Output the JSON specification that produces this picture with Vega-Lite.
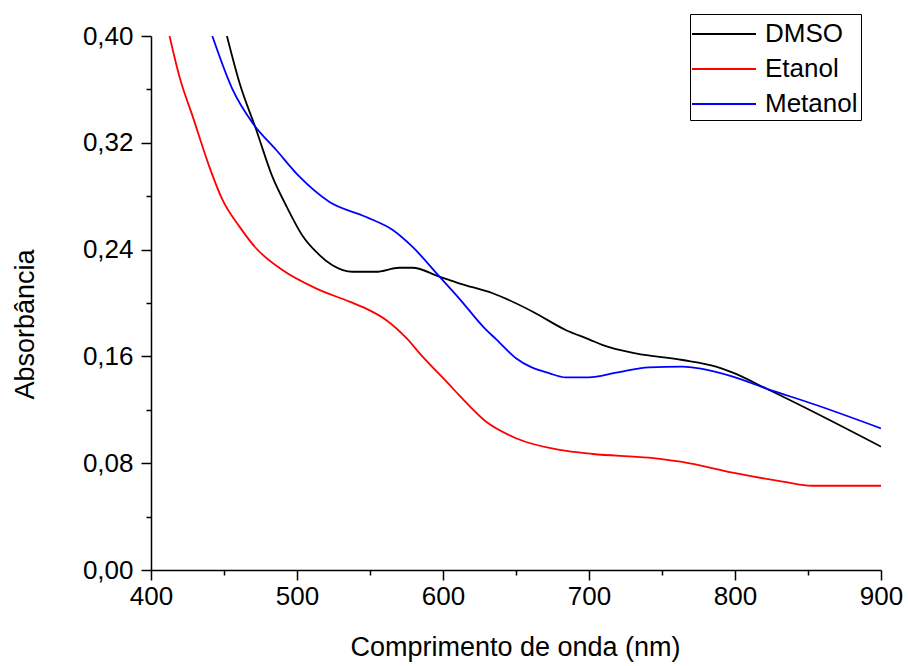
{
  "$schema": "https://vega.github.io/schema/vega-lite/v6.json",
  "width": 730,
  "height": 534,
  "autosize": {"type": "none"},
  "padding": {"left": 151, "top": 36, "right": 27, "bottom": 96},
  "background": "white",
  "config": {
    "view": {"stroke": null},
    "font": "Liberation Sans",
    "axis": {"grid": false, "labelFlush": false, "labelOverlap": false, "domainColor": "black", "domainWidth": 1.5, "tickColor": "black", "tickWidth": 1.5, "labelColor": "black", "titleColor": "black", "labelFont": "Liberation Sans", "titleFont": "Liberation Sans", "labelFontSize": 26, "titleFontSize": 27, "titleFontWeight": "normal"}
  },
  "data": {
    "values": [
      {"s": "DMSO", "x": 452, "y": 0.400},
      {"s": "DMSO", "x": 460.6, "y": 0.365},
      {"s": "DMSO", "x": 472, "y": 0.330},
      {"s": "DMSO", "x": 483, "y": 0.295},
      {"s": "DMSO", "x": 493, "y": 0.272},
      {"s": "DMSO", "x": 504, "y": 0.250},
      {"s": "DMSO", "x": 513, "y": 0.2384},
      {"s": "DMSO", "x": 524, "y": 0.2285},
      {"s": "DMSO", "x": 538, "y": 0.2234},
      {"s": "DMSO", "x": 554, "y": 0.2234},
      {"s": "DMSO", "x": 570, "y": 0.2264},
      {"s": "DMSO", "x": 579, "y": 0.2264},
      {"s": "DMSO", "x": 597.6, "y": 0.2197},
      {"s": "DMSO", "x": 611, "y": 0.2147},
      {"s": "DMSO", "x": 634, "y": 0.2073},
      {"s": "DMSO", "x": 661.5, "y": 0.1935},
      {"s": "DMSO", "x": 684, "y": 0.1798},
      {"s": "DMSO", "x": 700, "y": 0.1728},
      {"s": "DMSO", "x": 709.5, "y": 0.1685},
      {"s": "DMSO", "x": 732, "y": 0.1623},
      {"s": "DMSO", "x": 764, "y": 0.1573},
      {"s": "DMSO", "x": 787, "y": 0.1523},
      {"s": "DMSO", "x": 798.5, "y": 0.1478},
      {"s": "DMSO", "x": 821, "y": 0.1361},
      {"s": "DMSO", "x": 855.6, "y": 0.1174},
      {"s": "DMSO", "x": 900, "y": 0.0924},
      {"s": "Etanol", "x": 412.7, "y": 0.400},
      {"s": "Etanol", "x": 419.5, "y": 0.3695},
      {"s": "Etanol", "x": 428.6, "y": 0.3396},
      {"s": "Etanol", "x": 440, "y": 0.302},
      {"s": "Etanol", "x": 449, "y": 0.2772},
      {"s": "Etanol", "x": 460.6, "y": 0.2572},
      {"s": "Etanol", "x": 472, "y": 0.241},
      {"s": "Etanol", "x": 490, "y": 0.2247},
      {"s": "Etanol", "x": 513, "y": 0.211},
      {"s": "Etanol", "x": 536, "y": 0.201},
      {"s": "Etanol", "x": 547, "y": 0.196},
      {"s": "Etanol", "x": 561, "y": 0.1873},
      {"s": "Etanol", "x": 575, "y": 0.1736},
      {"s": "Etanol", "x": 584, "y": 0.1623},
      {"s": "Etanol", "x": 604.5, "y": 0.1386},
      {"s": "Etanol", "x": 611, "y": 0.131},
      {"s": "Etanol", "x": 629.6, "y": 0.111},
      {"s": "Etanol", "x": 650, "y": 0.0987},
      {"s": "Etanol", "x": 680, "y": 0.0899},
      {"s": "Etanol", "x": 702.6, "y": 0.0869},
      {"s": "Etanol", "x": 741, "y": 0.0841},
      {"s": "Etanol", "x": 769, "y": 0.0799},
      {"s": "Etanol", "x": 798.5, "y": 0.0729},
      {"s": "Etanol", "x": 832.7, "y": 0.0662},
      {"s": "Etanol", "x": 853, "y": 0.0631},
      {"s": "Etanol", "x": 900, "y": 0.0631},
      {"s": "Metanol", "x": 442, "y": 0.400},
      {"s": "Metanol", "x": 456, "y": 0.3596},
      {"s": "Metanol", "x": 469.7, "y": 0.3346},
      {"s": "Metanol", "x": 485.8, "y": 0.3146},
      {"s": "Metanol", "x": 501.7, "y": 0.2946},
      {"s": "Metanol", "x": 522, "y": 0.2759},
      {"s": "Metanol", "x": 547, "y": 0.2646},
      {"s": "Metanol", "x": 565.6, "y": 0.2547},
      {"s": "Metanol", "x": 579, "y": 0.2422},
      {"s": "Metanol", "x": 597.6, "y": 0.2197},
      {"s": "Metanol", "x": 611, "y": 0.2035},
      {"s": "Metanol", "x": 629.6, "y": 0.1798},
      {"s": "Metanol", "x": 636.5, "y": 0.1728},
      {"s": "Metanol", "x": 650, "y": 0.1586},
      {"s": "Metanol", "x": 673, "y": 0.1473},
      {"s": "Metanol", "x": 684, "y": 0.1443},
      {"s": "Metanol", "x": 700, "y": 0.1443},
      {"s": "Metanol", "x": 718.6, "y": 0.1478},
      {"s": "Metanol", "x": 741, "y": 0.1518},
      {"s": "Metanol", "x": 764, "y": 0.1523},
      {"s": "Metanol", "x": 775.6, "y": 0.151},
      {"s": "Metanol", "x": 798.5, "y": 0.1448},
      {"s": "Metanol", "x": 821, "y": 0.1361},
      {"s": "Metanol", "x": 855.6, "y": 0.1236},
      {"s": "Metanol", "x": 900, "y": 0.1061}
    ]
  },
  "mark": {"type": "line", "strokeWidth": 1.8, "interpolate": "monotone", "clip": true},
  "encoding": {
    "x": {
      "field": "x", "type": "quantitative",
      "scale": {"domain": [400, 900], "nice": false, "zero": false},
      "axis": {
        "values": [400, 450, 500, 550, 600, 650, 700, 750, 800, 850, 900],
        "labelExpr": "datum.value % 100 === 0 ? datum.label : ''",
        "format": "d",
        "tickSize": {"condition": {"test": "datum.value % 100 === 0", "value": 10}, "value": 5},
        "labelPadding": 3,
        "title": "Comprimento de onda (nm)",
        "titleX": 364, "titleY": 85, "titleBaseline": "alphabetic", "titleAlign": "center"
      }
    },
    "y": {
      "field": "y", "type": "quantitative",
      "scale": {"domain": [0, 0.4], "nice": false, "zero": false},
      "axis": {
        "values": [0, 0.04, 0.08, 0.12, 0.16, 0.2, 0.24, 0.28, 0.32, 0.36, 0.4],
        "labelExpr": "round(datum.value*100) % 8 === 0 ? replace(format(datum.value, '.2f'), '.', ',') : ''",
        "tickSize": {"condition": {"test": "round(datum.value*100) % 8 === 0", "value": 10}, "value": 5},
        "labelPadding": 8,
        "title": "Absorbância",
        "titleX": -126, "titleY": 288, "titleAngle": 270, "titleBaseline": "middle", "titleAlign": "center"
      }
    },
    "color": {
      "field": "s", "type": "nominal",
      "scale": {"domain": ["DMSO", "Etanol", "Metanol"], "range": ["#000000", "#ff0000", "#0000ff"]},
      "legend": {
        "orient": "none", "legendX": 539, "legendY": -22, "title": null,
        "symbolType": "M-2,0L2,0", "symbolSize": 1024, "symbolStrokeWidth": 1.8, "symbolOffset": 14,
        "labelFont": "Liberation Sans", "labelFontSize": 26, "labelColor": "black", "labelOffset": 24,
        "strokeColor": "black", "fillColor": "white", "padding": 3, "rowPadding": 5
      }
    }
  }
}
